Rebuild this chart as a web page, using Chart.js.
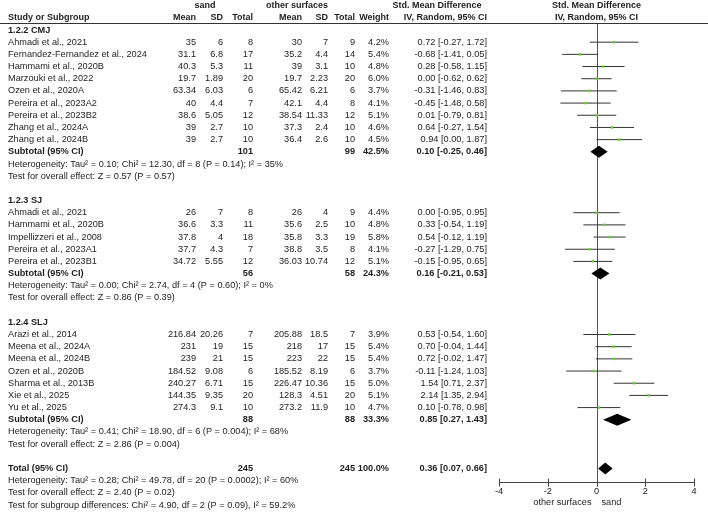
<!DOCTYPE html>
<html>
<head>
<meta charset="utf-8">
<title>Forest plot - sand vs other surfaces</title>
<script src="https://cdn.jsdelivr.net/npm/chart.js@4.4.1/dist/chart.umd.min.js"></script>
<style>
  html, body { margin: 0; padding: 0; background: #ffffff; }
  #wrap { width: 708px; height: 513px; }
</style>
</head>
<body>
<div id="wrap"><canvas id="forest" width="708" height="513"></canvas></div>
<script>
"use strict";

/* subgroups */
var groupNames = ["1.2.2 CMJ", "1.2.3 SJ", "1.2.4 SLJ"];

/* studies, in the order they are listed */
var studyNames = [
    "Ahmadi et al., 2021", "Fernandez-Fernandez et al., 2024", "Hammami et al., 2020B",
    "Marzouki et al., 2022", "Ozen et al., 2020A", "Pereira et al., 2023A2",
    "Pereira et al., 2023B2", "Zhang et al., 2024A", "Zhang et al., 2024B",
    "Ahmadi et al., 2021", "Hammami et al., 2020B", "Impellizzeri et al., 2008",
    "Pereira et al., 2023A1", "Pereira et al., 2023B1",
    "Arazi et al., 2014", "Meena et al., 2024A", "Meena et al., 2024B", "Ozen et al., 2020B",
    "Sharma et al., 2013B", "Xie et al., 2025", "Yu et al., 2025"
];
var studyGroup = [0, 0, 0, 0, 0, 0, 0, 0, 0, 1, 1, 1, 1, 1, 2, 2, 2, 2, 2, 2, 2];

var sandMean  = [35, 31.1, 40.3, 19.7, 63.34, 40, 38.6, 39, 39, 26, 36.6, 37.8, 37.7, 34.72, 216.84, 231, 239, 184.52, 240.27, 144.35, 274.3];
var sandSD    = [6, 6.8, 5.3, 1.89, 6.03, 4.4, 5.05, 2.7, 2.7, 7, 3.3, 4, 4.3, 5.55, 20.26, 19, 21, 9.08, 6.71, 9.35, 9.1];
var sandTotal = [8, 17, 11, 20, 6, 7, 12, 10, 10, 8, 11, 18, 7, 12, 7, 15, 15, 6, 15, 20, 10];

var otherMean  = [30, 35.2, 39, 19.7, 65.42, 42.1, 38.54, 37.3, 36.4, 26, 35.6, 35.8, 38.8, 36.03, 205.88, 218, 223, 185.52, 226.47, 128.3, 273.2];
var otherSD    = [7, 4.4, 3.1, 2.23, 6.21, 4.4, 11.33, 2.4, 2.6, 4, 2.5, 3.3, 3.5, 10.74, 18.5, 17, 22, 8.19, 10.36, 4.51, 11.9];
var otherTotal = [9, 14, 10, 20, 6, 8, 12, 10, 10, 9, 10, 19, 8, 12, 7, 15, 15, 6, 15, 20, 10];

var weights = [4.2, 5.4, 4.8, 6.0, 3.7, 4.1, 5.1, 4.6, 4.5, 4.4, 4.8, 5.8, 4.1, 5.1, 3.9, 5.4, 5.4, 3.7, 5.0, 5.1, 4.7];
var smd     = [0.72, -0.68, 0.28, 0.00, -0.31, -0.45, 0.01, 0.64, 0.94, 0.00, 0.33, 0.54, -0.27, -0.15, 0.53, 0.70, 0.72, -0.11, 1.54, 2.14, 0.10];
var ciLow   = [-0.27, -1.41, -0.58, -0.62, -1.46, -1.48, -0.79, -0.27, 0.00, -0.95, -0.54, -0.12, -1.29, -0.95, -0.54, -0.04, -0.02, -1.24, 0.71, 1.35, -0.78];
var ciHigh  = [1.72, 0.05, 1.15, 0.62, 0.83, 0.58, 0.81, 1.54, 1.87, 0.95, 1.19, 1.19, 0.75, 0.65, 1.60, 1.44, 1.47, 1.03, 2.37, 2.94, 0.98];

/* subtotals */
var groupSandTotal  = [101, 56, 88];
var groupOtherTotal = [99, 58, 88];
var groupWeight = [42.5, 24.3, 33.3];
var groupSmd    = [0.10, 0.16, 0.85];
var groupLow    = [-0.25, -0.21, 0.27];
var groupHigh   = [0.46, 0.53, 1.43];
var groupHeterogeneity = [
    "Heterogeneity: Tau\u00b2 = 0.10; Chi\u00b2 = 12.30, df = 8 (P = 0.14); I\u00b2 = 35%",
    "Heterogeneity: Tau\u00b2 = 0.00; Chi\u00b2 = 2.74, df = 4 (P = 0.60); I\u00b2 = 0%",
    "Heterogeneity: Tau\u00b2 = 0.41; Chi\u00b2 = 18.90, df = 6 (P = 0.004); I\u00b2 = 68%"
];
var groupOverall = [
    "Test for overall effect: Z = 0.57 (P = 0.57)",
    "Test for overall effect: Z = 0.86 (P = 0.39)",
    "Test for overall effect: Z = 2.86 (P = 0.004)"
];

/* overall total */
var totalCounts = [245, 245];
var totalEffect = [100.0, 0.36, 0.07, 0.66];   // weight, smd, low, high
var totalNotes = [
    "Heterogeneity: Tau\u00b2 = 0.28; Chi\u00b2 = 49.78, df = 20 (P = 0.0002); I\u00b2 = 60%",
    "Test for overall effect: Z = 2.40 (P = 0.02)",
    "Test for subgroup differences: Chi\u00b2 = 4.90, df = 2 (P = 0.09), I\u00b2 = 59.2%"
];

/* axis */
var tickValues = [-4, -2, 0, 2, 4];
var axisLabels = ["other surfaces", "sand"];

/* ---- build the row list (row index = y value) ---- */
var rows = [];
var studyRow = [];
var groupRow = [];
var r = 0;
for (var g = 0; g < groupNames.length; g++) {
    rows.push({ kind: "group", text: groupNames[g], r: r++ });
    for (var i = 0; i < studyNames.length; i++) {
        if (studyGroup[i] === g) {
            studyRow[i] = r;
            rows.push({ kind: "study", i: i, r: r++ });
        }
    }
    groupRow[g] = r;
    rows.push({ kind: "subtotal", g: g, r: r++ });
    rows.push({ kind: "note", text: groupHeterogeneity[g], r: r++ });
    rows.push({ kind: "note", text: groupOverall[g], r: r++ });
    r++;  // blank line
}
var totalRow = r;
rows.push({ kind: "total", r: r++ });
for (var n = 0; n < totalNotes.length; n++) {
    rows.push({ kind: "note", text: totalNotes[n], r: r++ });
}

/* ---- datasets ---- */
var pointData = [];
for (var i = 0; i < studyNames.length; i++) {
    pointData.push({ x: smd[i], y: studyRow[i] });
}
var datasets = [{
    type: "scatter",
    data: pointData,
    pointStyle: "rect",
    pointRadius: 1.8,
    pointBackgroundColor: "#6ccf3a",
    pointBorderWidth: 0,
    order: 0
}];
for (var i = 0; i < studyNames.length; i++) {
    datasets.push({
        type: "line",
        data: [{ x: ciLow[i], y: studyRow[i] }, { x: ciHigh[i], y: studyRow[i] }],
        borderColor: "#333333",
        borderWidth: 1,
        pointRadius: 0,
        order: 1
    });
}

var FONT = "'Liberation Sans', Arial, sans-serif";
var FSIZE = 9.2;
var HSIZE = 9;
var TEXT = "#1e1e1e";

function fmt2(v) { return v.toFixed(2); }
function ciText(m, lo, hi) { return fmt2(m) + " [" + fmt2(lo) + ", " + fmt2(hi) + "]"; }

function put(ctx, s, x, y, align, bold, size) {
    ctx.font = (bold ? "bold " : "") + (size || FSIZE) + "px " + FONT;
    ctx.textAlign = align;
    ctx.fillText(String(s), x, y);
}

/* draws the table, the diamonds, the zero line and the axis */
var forestPlugin = {
    id: "forest",
    beforeDatasetsDraw: function (chart) {
        var ctx = chart.ctx, xs = chart.scales.x;
        var x0 = Math.round(xs.getPixelForValue(0)) + 0.5;
        ctx.save();
        ctx.strokeStyle = "#555555";
        ctx.lineWidth = 1;
        ctx.beginPath();
        ctx.moveTo(x0, chart.chartArea.top);
        ctx.lineTo(x0, chart.chartArea.bottom);
        ctx.stroke();
        ctx.restore();
    },
    afterDraw: function (chart) {
        var ctx = chart.ctx, xs = chart.scales.x, ys = chart.scales.y;
        var C = { name: 8, sMean: 196, sSD: 223, sN: 253, oMean: 302, oSD: 328, oN: 355, weight: 389, ci: 487 };
        ctx.save();
        ctx.fillStyle = TEXT;
        ctx.textBaseline = "middle";

        /* headers */
        var h1 = ys.getPixelForValue(-2), h2 = ys.getPixelForValue(-1);
        var xz = xs.getPixelForValue(0);
        put(ctx, "sand", 205, h1, "center", true, HSIZE);
        put(ctx, "other surfaces", 297, h1, "center", true, HSIZE);
        put(ctx, "Std. Mean Difference", 437, h1, "center", true, HSIZE);
        put(ctx, "Std. Mean Difference", xz, h1, "center", true, HSIZE);
        put(ctx, "Study or Subgroup", C.name, h2, "left", true, HSIZE);
        put(ctx, "Mean", C.sMean, h2, "right", true, HSIZE);
        put(ctx, "SD", C.sSD, h2, "right", true, HSIZE);
        put(ctx, "Total", C.sN, h2, "right", true, HSIZE);
        put(ctx, "Mean", C.oMean, h2, "right", true, HSIZE);
        put(ctx, "SD", C.oSD, h2, "right", true, HSIZE);
        put(ctx, "Total", C.oN, h2, "right", true, HSIZE);
        put(ctx, "Weight", C.weight, h2, "right", true, HSIZE);
        put(ctx, "IV, Random, 95% CI", C.ci, h2, "right", true, HSIZE);
        put(ctx, "IV, Random, 95% CI", xz, h2, "center", true, HSIZE);

        ctx.strokeStyle = "#333333";
        ctx.lineWidth = 1;
        ctx.beginPath();
        ctx.moveTo(0, chart.chartArea.top + 0.5);
        ctx.lineTo(chart.width, chart.chartArea.top + 0.5);
        ctx.stroke();

        /* rows */
        rows.forEach(function (row) {
            var y = ys.getPixelForValue(row.r);
            if (row.kind === "group") {
                put(ctx, row.text, C.name, y, "left", true);
            } else if (row.kind === "study") {
                var i = row.i;
                put(ctx, studyNames[i], C.name, y, "left", false);
                put(ctx, sandMean[i], C.sMean, y, "right", false);
                put(ctx, sandSD[i], C.sSD, y, "right", false);
                put(ctx, sandTotal[i], C.sN, y, "right", false);
                put(ctx, otherMean[i], C.oMean, y, "right", false);
                put(ctx, otherSD[i], C.oSD, y, "right", false);
                put(ctx, otherTotal[i], C.oN, y, "right", false);
                put(ctx, weights[i].toFixed(1) + "%", C.weight, y, "right", false);
                put(ctx, ciText(smd[i], ciLow[i], ciHigh[i]), C.ci, y, "right", false);
            } else if (row.kind === "subtotal") {
                var g = row.g;
                put(ctx, "Subtotal (95% CI)", C.name, y, "left", true);
                put(ctx, groupSandTotal[g], C.sN, y, "right", true);
                put(ctx, groupOtherTotal[g], C.oN, y, "right", true);
                put(ctx, groupWeight[g].toFixed(1) + "%", C.weight, y, "right", true);
                put(ctx, ciText(groupSmd[g], groupLow[g], groupHigh[g]), C.ci, y, "right", true);
            } else if (row.kind === "total") {
                put(ctx, "Total (95% CI)", C.name, y, "left", true);
                put(ctx, totalCounts[0], C.sN, y, "right", true);
                put(ctx, totalCounts[1], C.oN, y, "right", true);
                put(ctx, totalEffect[0].toFixed(1) + "%", C.weight, y, "right", true);
                put(ctx, ciText(totalEffect[1], totalEffect[2], totalEffect[3]), C.ci, y, "right", true);
            } else {
                put(ctx, row.text, C.name, y, "left", false);
            }
        });

        /* diamonds */
        function diamond(m, lo, hi, rr) {
            var y = ys.getPixelForValue(rr), hh = 6;
            ctx.fillStyle = "#000000";
            ctx.beginPath();
            ctx.moveTo(xs.getPixelForValue(lo), y);
            ctx.lineTo(xs.getPixelForValue(m), y - hh);
            ctx.lineTo(xs.getPixelForValue(hi), y);
            ctx.lineTo(xs.getPixelForValue(m), y + hh);
            ctx.closePath();
            ctx.fill();
        }
        for (var g = 0; g < groupNames.length; g++) {
            diamond(groupSmd[g], groupLow[g], groupHigh[g], groupRow[g]);
        }
        diamond(totalEffect[1], totalEffect[2], totalEffect[3], totalRow);

        /* x axis */
        var ay = Math.round(chart.chartArea.bottom) + 0.5;
        var xa = xs.getPixelForValue(tickValues[0]);
        var xb = xs.getPixelForValue(tickValues[tickValues.length - 1]);
        ctx.strokeStyle = "#444444";
        ctx.beginPath();
        ctx.moveTo(xa, ay);
        ctx.lineTo(xb, ay);
        tickValues.forEach(function (t) {
            var tx = Math.round(xs.getPixelForValue(t)) + 0.5;
            ctx.moveTo(tx, ay - 4);
            ctx.lineTo(tx, ay + 4);
        });
        ctx.stroke();
        ctx.fillStyle = TEXT;
        tickValues.forEach(function (t) {
            put(ctx, String(t), xs.getPixelForValue(t), ay + 9, "center", false);
        });
        put(ctx, axisLabels[0], xz - 5, ay + 20, "right", false);
        put(ctx, axisLabels[1], xz + 5, ay + 20, "left", false);
        ctx.restore();
    }
};

/* row spacing and top text line, in pixels */
var ROW_H = 12.18, FIRST_ROW_Y = 30, TOP = 23, BOTTOM = 482;
var yMin = -(FIRST_ROW_Y - TOP) / ROW_H;
var yMax = yMin + (BOTTOM - TOP) / ROW_H;

var ctx = document.getElementById("forest");
var forestChart = new Chart(ctx, {
    type: "scatter",
    data: { datasets: datasets },
    options: {
        responsive: false,
        animation: false,
        layout: { padding: { left: 499, right: 14, top: TOP, bottom: 513 - BOTTOM } },
        plugins: { legend: { display: false }, tooltip: { enabled: false } },
        scales: {
            x: { type: "linear", min: tickValues[0], max: tickValues[tickValues.length - 1], display: false },
            y: { type: "linear", min: yMin, max: yMax, reverse: true, display: false }
        }
    },
    plugins: [forestPlugin]
});
</script>
</body>
</html>
